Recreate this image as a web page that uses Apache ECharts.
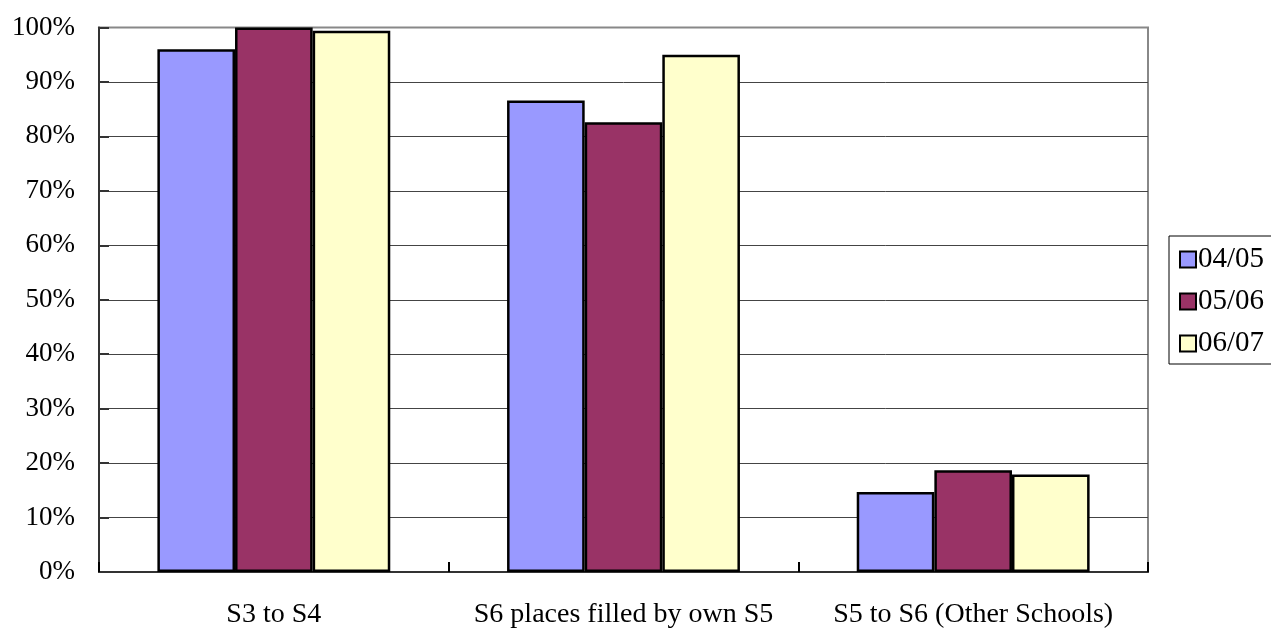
<!DOCTYPE html>
<html>
<head>
<meta charset="utf-8">
<script src="https://cdn.jsdelivr.net/npm/echarts@6/dist/echarts.min.js"></script>
<style>
  html, body { margin: 0; padding: 0; background: #fff; }
  #chart { width: 1271px; height: 630px; }
</style>
</head>
<body>
<div id="chart"></div>
<script>
// Transition rates by school year
const categories = ['S3 to S4', 'S6 places filled by own S5', 'S5 to S6 (Other Schools)'];
const yearNames = ['04/05', '05/06', '06/07'];
const values0405 = [96.0, 86.6, 14.7];
const values0506 = [100.0, 82.6, 18.7];
const values0607 = [99.4, 95.0, 17.9];
const yearColors = ['#9999FF', '#993366', '#FFFFCC'];

const serif = '"Liberation Serif", "Times New Roman", serif';
const seriesValues = [values0405, values0506, values0607];

const chart = echarts.init(document.getElementById('chart'));
chart.setOption({
  animation: false,
  backgroundColor: '#fff',
  textStyle: { fontFamily: serif },
  grid: {
    left: 99, right: 123, top: 27.5, bottom: 58,
    show: true, borderColor: '#888', borderWidth: 2, backgroundColor: 'transparent'
  },
  legend: {
    orient: 'vertical',
    left: 1169, top: 236,
    padding: [9, 8, 6, 10],
    itemGap: 13,
    itemWidth: 16, itemHeight: 16,
    borderColor: '#000', borderWidth: 1,
    icon: 'rect',
    textStyle: { fontFamily: serif, fontSize: 29, lineHeight: 29, color: '#000', padding: [0, 0, 0, -3] },
    data: yearNames
  },
  xAxis: {
    type: 'category',
    data: categories,
    axisLine: { show: true, lineStyle: { color: '#333', width: 2 } },
    axisTick: { show: true, interval: 0, inside: true, length: 10, lineStyle: { color: '#000', width: 2 } },
    axisLabel: { interval: 0, fontFamily: serif, fontSize: 28, color: '#000', margin: 29 }
  },
  yAxis: {
    type: 'value',
    min: 0, max: 100, interval: 10,
    axisLine: { show: true, lineStyle: { color: '#333', width: 2 } },
    axisTick: { show: true, inside: true, length: 10, lineStyle: { color: '#333', width: 2 } },
    splitLine: { show: true, showMinLine: false, showMaxLine: false, lineStyle: { color: '#444', width: 1 } },
    axisLabel: { fontFamily: serif, fontSize: 27, color: '#000', margin: 24, formatter: '{value}%' }
  },
  series: yearNames.map((name, i) => ({
    name: name,
    type: 'bar',
    data: seriesValues[i],
    barGap: '0%',
    barCategoryGap: '33.4%',
    itemStyle: { color: yearColors[i], borderColor: '#000', borderWidth: 2.5 }
  }))
});
</script>
</body>
</html>
